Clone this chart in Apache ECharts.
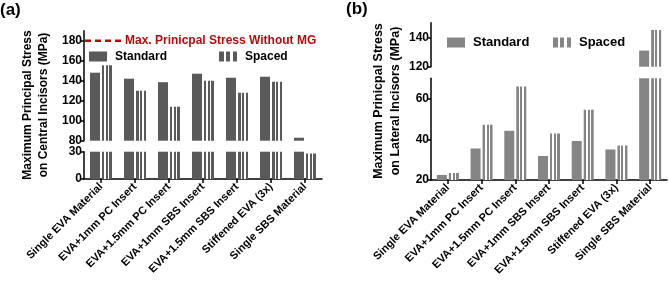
<!DOCTYPE html>
<html>
<head>
<meta charset="utf-8">
<script src="https://cdn.jsdelivr.net/npm/echarts@6/dist/echarts.min.js"></script>
<style>
  html, body { margin: 0; padding: 0; background: #fff; }
  #main { width: 669px; height: 288px; }
</style>
</head>
<body>
<div id="main"></div>
<script>
const categories = ['Single EVA Material', 'EVA+1mm PC Insert', 'EVA+1.5mm PC Insert', 'EVA+1mm SBS Insert',
  'EVA+1.5mm SBS Insert', 'Stiffened EVA (3x)', 'Single SBS Material'];
// (a) central incisors, MPa
const centralStandard = [148, 142, 138.5, 147, 143, 144, 83];
const centralSpaced = [155.5, 130, 114, 140, 128, 139, 28];
// (b) lateral incisors, MPa
const lateralStandard = [22.5, 35.5, 44.2, 31.8, 39.2, 35, 131];
const lateralSpaced = [23.5, 47.2, 66, 42.8, 54.5, 37, 145];
// tick labels on the broken axes
const centralTicksUpper = [80, 100, 120, 140, 160, 180];
const centralTicksLower = [0, 30];
const lateralTicksUpper = [120, 140];
const lateralTicksLower = [20, 40, 60];
const limitWithoutMG = 180;

const font = '"Liberation Sans", Arial, sans-serif';
const darkA = '#5a5a5a';
const darkB = '#858585';

// gray bar with two thin white stripes
const spacedFill = (c) => new echarts.graphic.LinearGradient(0, 0, 1, 0, [
  { offset: 0, color: c }, { offset: 0.25, color: c },
  { offset: 0.25, color: '#fff' }, { offset: 0.4, color: '#fff' },
  { offset: 0.4, color: c }, { offset: 0.6, color: c },
  { offset: 0.6, color: '#fff' }, { offset: 0.75, color: '#fff' },
  { offset: 0.75, color: c }, { offset: 1, color: c }
]);

const axisLine = { show: true, onZero: false, lineStyle: { color: '#000', width: 1.5 } };

function yAxis(grid, min, max, ticks, size) {
  return {
    type: 'value', gridIndex: grid, min: min, max: max,
    splitLine: { show: false },
    axisLine: axisLine,
    axisTick: { show: true, length: 4, lineStyle: { color: '#000', width: 1.5 }, customValues: ticks },
    axisLabel: { customValues: ticks, color: '#000', fontWeight: 'bold', fontSize: size, fontFamily: font, margin: 2 }
  };
}

function xAxis(grid, visible, size) {
  return {
    type: 'category', gridIndex: grid, data: categories, show: visible,
    axisLine: axisLine,
    axisTick: { show: true, alignWithLabel: true, length: 4, lineStyle: { color: '#000', width: 1.5 } },
    axisLabel: { rotate: 45, interval: 0, hideOverlap: false, color: '#000', fontWeight: 'bold',
      fontSize: size, fontFamily: font, margin: 6 }
  };
}

function bars(name, axisIdx, values, color) {
  return {
    name: name, type: 'bar', xAxisIndex: axisIdx, yAxisIndex: axisIdx,
    data: values, barWidth: 10, barGap: '20%', clip: true, silent: true,
    itemStyle: { color: name === 'Spaced' ? spacedFill(color) : color }
  };
}

function legend(x, y, name, color, size) {
  return {
    left: x, top: y, padding: 0, itemWidth: 18, itemHeight: 10, icon: 'rect',
    selectedMode: false,
    data: [{ name: name, itemStyle: { color: name === 'Spaced' ? spacedFill(color) : color } }],
    textStyle: { color: '#000', fontWeight: 'bold', fontSize: size, fontFamily: font, padding: [0, 0, 0, 3] }
  };
}

function texts(yLimit) {
  const g = [
    { type: 'text', left: 0, top: 2, style: { text: '(a)', font: 'bold 17px ' + font, fill: '#000' } },
    { type: 'text', left: 346, top: 1, style: { text: '(b)', font: 'bold 17px ' + font, fill: '#000' } },
    { type: 'text', x: 36, y: 105, rotation: Math.PI / 2,
      style: { text: 'Maximum Principal Stress\non Central Incisors (MPa)', font: 'bold 12px ' + font,
        fill: '#000', align: 'center', verticalAlign: 'middle', lineHeight: 16 } },
    { type: 'text', x: 387.5, y: 101, rotation: Math.PI / 2,
      style: { text: 'Maximum Prinicpal Stress\non Lateral Incisors (MPa)', font: 'bold 12.5px ' + font,
        fill: '#000', align: 'center', verticalAlign: 'middle', lineHeight: 17 } }
  ];
  if (yLimit != null) {
    g.push({ type: 'line', shape: { x1: 85, y1: yLimit, x2: 122, y2: yLimit },
      style: { stroke: '#b50d0d', lineWidth: 2.5, lineDash: [6, 4] } });
    g.push({ type: 'text', x: 125, y: yLimit,
      style: { text: 'Max. Prinicpal Stress Without MG', font: 'bold 12px ' + font, fill: '#b50d0d',
        verticalAlign: 'middle' } });
  }
  return g;
}

const chart = echarts.init(document.getElementById('main'), null, { renderer: 'canvas' });
chart.setOption({
  animation: false,
  grid: [
    { left: 84, top: 30.7, width: 238, height: 110 },
    { left: 84, top: 151.7, width: 238, height: 27.3 },
    { left: 431, top: 22.7, width: 236, height: 44 },
    { left: 431, top: 78.3, width: 236, height: 101.7 }
  ],
  xAxis: [xAxis(0, false, 11), xAxis(1, true, 11), xAxis(2, false, 11), xAxis(3, true, 11)],
  yAxis: [
    yAxis(0, 80, 190, centralTicksUpper, 12),
    yAxis(1, 0, 30, centralTicksLower, 12),
    yAxis(2, 120, 150, lateralTicksUpper, 12),
    yAxis(3, 20, 70, lateralTicksLower, 12)
  ],
  legend: [
    legend(89, 50.5, 'Standard', darkA, 12),
    legend(219, 50.5, 'Spaced', darkA, 12),
    legend(447, 36, 'Standard', darkB, 13),
    legend(553, 36, 'Spaced', darkB, 13)
  ],
  series: [
    bars('Standard', 0, centralStandard, darkA),
    bars('Spaced', 0, centralSpaced, darkA),
    bars('Standard', 1, centralStandard, darkA),
    bars('Spaced', 1, centralSpaced, darkA),
    bars('Standard', 2, lateralStandard, darkB),
    bars('Spaced', 2, lateralSpaced, darkB),
    bars('Standard', 3, lateralStandard, darkB),
    bars('Spaced', 3, lateralSpaced, darkB)
  ],
  graphic: texts(null)
});

// dashed reference line at the "without mouthguard" stress, placed through the upper axis of (a)
const yLimit = chart.convertToPixel({ yAxisIndex: 0 }, limitWithoutMG);
chart.setOption({ graphic: texts(yLimit) });
</script>
</body>
</html>
